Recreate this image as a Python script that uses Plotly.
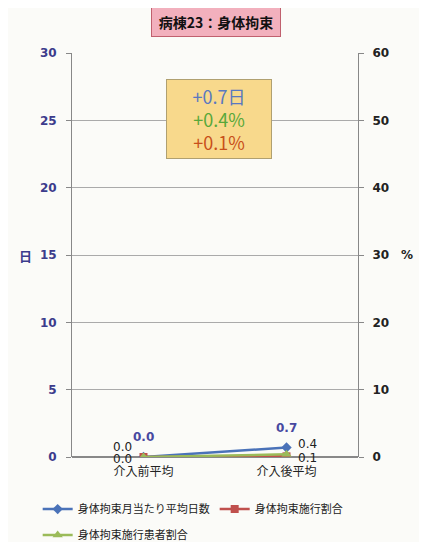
import plotly.graph_objects as go

categories = ['介入前平均', '介入後平均']
days = [0.0, 0.7]            # 身体拘束月当たり平均日数 (左軸, 日)
rate = [0.0, 0.1]            # 身体拘束施行割合 (右軸, %)
patient_rate = [0.0, 0.4]    # 身体拘束施行患者割合 (右軸, %)
left_ticks = [0, 5, 10, 15, 20, 25, 30]
right_ticks = [0, 10, 20, 30, 40, 50, 60]

BLUE = '#4a72b8'
RED = '#c0504d'
GREEN = '#9bbb59'
FONT = 'Noto Sans CJK JP'
NUM = 'DejaVu Sans'

fig = go.Figure()

fig.add_trace(go.Scatter(
    x=categories, y=days, name='身体拘束月当たり平均日数', legend='legend',
    mode='lines+markers', line=dict(color=BLUE, width=2.5),
    marker=dict(symbol='diamond', size=8, color=BLUE),
))
fig.add_trace(go.Scatter(
    x=categories, y=rate, name='身体拘束施行割合', yaxis='y2', legend='legend',
    mode='lines+markers', line=dict(color=RED, width=2.5),
    marker=dict(symbol='square', size=8, color=RED),
))
fig.add_trace(go.Scatter(
    x=categories, y=patient_rate, name='身体拘束施行患者割合', yaxis='y2', legend='legend2',
    mode='lines+markers', line=dict(color=GREEN, width=2.5),
    marker=dict(symbol='triangle-up', size=9, color=GREEN),
))

# data labels
ann = []
for i, c in enumerate(categories):
    ann.append(dict(x=c, y=days[i], text=f'<b>{days[i]:.1f}</b>', showarrow=False,
                    yshift=20, font=dict(color='#4848a0', size=12, family=NUM),
                    xref='x', yref='y'))
    side = -1 if i == 0 else 1
    ann.append(dict(x=c, y=rate[i], text=f'{rate[i]:.1f}', showarrow=False,
                    xshift=21 * side, yshift=-2, font=dict(color='#222', size=12, family=NUM),
                    xref='x', yref='y2'))
    ann.append(dict(x=c, y=patient_rate[i], text=f'{patient_rate[i]:.1f}', showarrow=False,
                    xshift=21 * side, yshift=10, font=dict(color='#222', size=12, family=NUM),
                    xref='x', yref='y2'))

# title box
ann.append(dict(x=0.503, y=1.077, xref='paper', yref='paper', xanchor='center', yanchor='middle',
                text='<b>病棟23：身体拘束</b>', showarrow=False,
                width=126, height=27,
                font=dict(size=14, color='#111', family=FONT),
                bgcolor='#f2b0bd', bordercolor='#c0606e', borderwidth=1))
# difference box
ann.append(dict(x=0.514, y=0.837, xref='paper', yref='paper', xanchor='center', yanchor='middle',
                text=('<span style="color:#5a78c0">+0.7日</span><br>'
                      '<span style="color:#58a83a">+0.4%</span><br>'
                      '<span style="color:#c8501a">+0.1%</span>'),
                showarrow=False, align='center', width=102, height=76,
                font=dict(size=18, family=FONT),
                bgcolor='#f8d98c', bordercolor='#b0a070', borderwidth=1))
# axis unit labels
ann.append(dict(x=-0.161, y=0.5, xref='paper', yref='paper', xanchor='center', yanchor='middle',
                text='<b>日</b>', showarrow=False,
                font=dict(size=13, color='#3c3c8c', family=FONT)))
ann.append(dict(x=1.171, y=0.5, xref='paper', yref='paper', xanchor='center', yanchor='middle',
                text='<b>%</b>', showarrow=False,
                font=dict(size=12, color='#222', family=NUM)))

# the page body adds an 8px offset, so the figure is 8px smaller than the window
fig.update_layout(
    width=419, height=534,
    margin=dict(l=64, r=69, t=45, b=85, autoexpand=False),
    paper_bgcolor='#fbfbf8', plot_bgcolor='#fbfbf8',
    font=dict(family=FONT, size=12, color='#222'),
    showlegend=True,
    legend=dict(orientation='h', x=-0.12, xanchor='left', y=-0.129, yanchor='middle',
                font=dict(size=11, family=FONT), bgcolor='rgba(0,0,0,0)'),
    legend2=dict(orientation='h', x=-0.12, xanchor='left', y=-0.193, yanchor='middle',
                 font=dict(size=11, family=FONT), bgcolor='rgba(0,0,0,0)'),
    annotations=ann,
    xaxis=dict(range=[-0.5, 1.5], showgrid=False, showline=False, ticks='',
               tickfont=dict(size=12, family=FONT, color='#222'), ticklabelstandoff=6),
    yaxis=dict(range=[0, 30], tickvals=left_ticks, showline=True, linecolor='#888',
               linewidth=1, ticks='outside', ticklen=5, tickcolor='#888',
               gridcolor='#aaa', gridwidth=1, zeroline=True, zerolinecolor='#888',
               tickfont=dict(size=12, color='#3c3c8c', family=NUM, weight='bold'),
               ticklabelstandoff=7),
    yaxis2=dict(range=[0, 60], tickvals=right_ticks, overlaying='y', side='right',
                showline=True, linecolor='#888', linewidth=1, ticks='outside',
                ticklen=5, tickcolor='#888', showgrid=False, zeroline=False,
                tickfont=dict(size=12, color='#222', family=NUM, weight='bold'),
                ticklabelstandoff=6),
)

fig.write_html('out.html')
